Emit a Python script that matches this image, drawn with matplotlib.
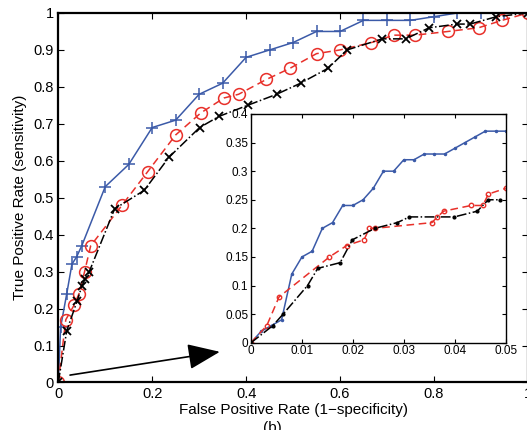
import matplotlib
matplotlib.use('Agg')
import matplotlib.pyplot as plt

plt.rcParams['font.family'] = ['Liberation Sans', 'DejaVu Sans']
plt.rcParams['axes.unicode_minus'] = False

# main ROC curves
blue_x = [0, 0.005, 0.018, 0.029, 0.039, 0.05, 0.10, 0.15, 0.20, 0.25, 0.30, 0.35, 0.40,
          0.45, 0.50, 0.55, 0.60, 0.65, 0.70, 0.75, 0.80, 0.85, 0.90, 0.95, 1.0]
blue_y = [0, 0.15, 0.24, 0.32, 0.34, 0.37, 0.53, 0.59, 0.69, 0.71, 0.78, 0.81, 0.88,
          0.90, 0.92, 0.95, 0.95, 0.98, 0.98, 0.98, 0.99, 1.0, 1.0, 1.0, 1.0]

red_x = [0, 0.016, 0.034, 0.044, 0.056, 0.069, 0.136, 0.19, 0.25, 0.304, 0.353, 0.384,
         0.443, 0.493, 0.55, 0.60, 0.667, 0.714, 0.76, 0.83, 0.895, 0.945, 1.0]
red_y = [0, 0.17, 0.21, 0.24, 0.30, 0.37, 0.48, 0.57, 0.67, 0.73, 0.77, 0.78,
         0.82, 0.85, 0.89, 0.90, 0.92, 0.94, 0.94, 0.95, 0.96, 0.98, 1.0]

black_x = [0, 0.018, 0.04, 0.05, 0.057, 0.066, 0.12, 0.183, 0.236, 0.301, 0.342, 0.403,
           0.465, 0.516, 0.574, 0.615, 0.69, 0.74, 0.79, 0.849, 0.877, 0.933, 1.0]
black_y = [0, 0.14, 0.22, 0.26, 0.28, 0.30, 0.47, 0.52, 0.61, 0.69, 0.72, 0.75,
           0.78, 0.81, 0.85, 0.90, 0.93, 0.93, 0.96, 0.97, 0.97, 0.99, 1.0]

# zoomed region (FPR 0 - 0.05)
ins_blue_x = [i * 0.002 for i in range(26)]
ins_blue_y = [0, 0.02, 0.03, 0.04, 0.12, 0.15, 0.16, 0.20, 0.21, 0.24, 0.24, 0.25, 0.27,
              0.30, 0.30, 0.32, 0.32, 0.33, 0.33, 0.33, 0.34, 0.35, 0.36, 0.37, 0.37, 0.37]

ins_red_x = [0, 0.0031, 0.0055, 0.0154, 0.0188, 0.0222, 0.0232, 0.0243, 0.0355, 0.0366,
             0.0378, 0.0432, 0.0455, 0.0466, 0.05]
ins_red_y = [0, 0.03, 0.08, 0.15, 0.17, 0.18, 0.20, 0.20, 0.21, 0.22, 0.23, 0.24, 0.24,
             0.26, 0.27]

ins_black_x = [0, 0.0043, 0.0063, 0.0111, 0.0131, 0.0175, 0.0199, 0.0243, 0.0287, 0.0311,
               0.0399, 0.0444, 0.0466, 0.0489]
ins_black_y = [0, 0.03, 0.05, 0.10, 0.13, 0.14, 0.18, 0.20, 0.21, 0.22, 0.22, 0.23, 0.25, 0.25]

c_blue = '#3b5aa8'
c_red = '#e8302a'

fig = plt.figure(figsize=(5.27, 4.3), dpi=100)
ax = fig.add_axes([0.1106, 0.1105, 0.891, 0.8593])

ax.plot(blue_x, blue_y, '-', color=c_blue, lw=1.1, marker='+', ms=8, mew=1.1)
ax.plot(red_x, red_y, '--', color=c_red, lw=1.1, marker='o', ms=8.5, mfc='none', mew=1.1,
        dashes=(5, 3))
ax.plot(black_x, black_y, '-.', color='black', lw=1.1, marker='x', ms=5.5, mew=1.3)

ax.set_xlim(0, 1)
ax.set_ylim(0, 1)
ax.set_xticks([0, 0.2, 0.4, 0.6, 0.8, 1])
ax.set_xticklabels(['0', '0.2', '0.4', '0.6', '0.8', '1'])
ax.set_yticks([i / 10 for i in range(11)])
ax.set_yticklabels(['0'] + ['%.1f' % (i / 10) for i in range(1, 10)] + ['1'])
ax.tick_params(direction='in', top=True, right=True, labelsize=10.5, length=4, pad=3)
for s in ax.spines.values():
    s.set_linewidth(1.6)
ax.set_xlabel('False Positive Rate (1\u2212specificity)', fontsize=11, labelpad=2)
ax.set_ylabel('True Positive Rate (sensitivity)', fontsize=11, labelpad=5)

# arrow pointing at the zoomed inset
ax.annotate('', xy=(0.344, 0.083), xytext=(0.025, 0.02),
            arrowprops=dict(arrowstyle='-|>,head_length=2.0,head_width=0.8',
                            color='black', lw=1.2, shrinkA=0, shrinkB=0))

fig.text(0.516, -0.012, '(b)', fontsize=11, ha='center', va='bottom')

ins = fig.add_axes([0.4763, 0.203, 0.4833, 0.5319])
ins.plot(ins_blue_x, ins_blue_y, '-', color=c_blue, lw=1.1, marker='.', ms=3)
ins.plot(ins_red_x, ins_red_y, '--', color=c_red, lw=1.1, marker='o', ms=3.2, mfc='none',
         mew=1.0, dashes=(5, 3))
ins.plot(ins_black_x, ins_black_y, '-.', color='black', lw=1.1, marker='.', ms=4)
ins.set_xlim(0, 0.05)
ins.set_ylim(0, 0.4)
ins.set_xticks([0, 0.01, 0.02, 0.03, 0.04, 0.05])
ins.set_xticklabels(['0', '0.01', '0.02', '0.03', '0.04', '0.05'])
ins.set_yticks([0, 0.05, 0.1, 0.15, 0.2, 0.25, 0.3, 0.35, 0.4])
ins.set_yticklabels(['0', '0.05', '0.1', '0.15', '0.2', '0.25', '0.3', '0.35', '0.4'])
ins.tick_params(direction='in', top=True, right=True, labelsize=8.5, length=3, pad=2)
for s in ins.spines.values():
    s.set_linewidth(1.0)

fig.savefig('out.png', dpi=100)
